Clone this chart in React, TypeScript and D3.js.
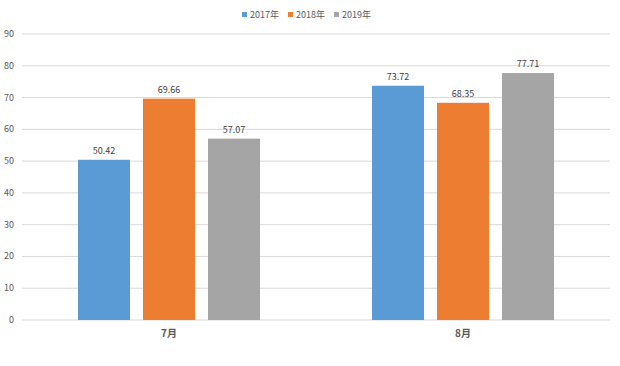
import * as d3 from "d3";

const months = ["7月", "8月"];
const seriesNames = ["2017年", "2018年", "2019年"];
const seriesColors = ["#5b9bd5", "#ed7d31", "#a5a5a5"];
const values2017 = [50.42, 73.72];
const values2018 = [69.66, 68.35];
const values2019 = [57.07, 77.71];
const yTicks = [0, 10, 20, 30, 40, 50, 60, 70, 80, 90];

const W = 620, H = 366;
const FONT = "'Microsoft YaHei', 'Noto Sans CJK SC', 'Liberation Sans', sans-serif";

export default function App() {
  const series = [values2017, values2018, values2019];
  const x0 = d3.scaleBand().domain(months).range([22, 610]).paddingInner(0).paddingOuter(0);
  const y = d3.scaleLinear().domain([0, 90]).range([320, 34]);
  const groupW = 182;
  const x1 = d3.scaleBand().domain(seriesNames).range([0, groupW]).paddingInner(0.2);

  // legend swatch positions
  const legendX = [242, 288, 334];

  return (
    <svg width={W} height={H} style={{ position: "absolute", left: 0, top: 0, background: "#fff" }} fontFamily={FONT}>
      {yTicks.map(t => (
        <g key={t}>
          <line x1={22} x2={610} y1={y(t)} y2={y(t)} stroke="#d9d9d9" strokeWidth={1} />
          <text x={14} y={y(t) + 3} textAnchor="end" fontSize={9} fill="#595959">{t}</text>
        </g>
      ))}
      {months.map((m, i) => {
        const gx = (x0(m) ?? 0) + x0.bandwidth() / 2 - groupW / 2;
        return (
          <g key={m}>
            {series.map((s, j) => {
              const bx = gx + (x1(seriesNames[j]) ?? 0);
              const bw = x1.bandwidth();
              return (
                <g key={j}>
                  <rect x={bx} y={y(s[i])} width={bw} height={y(0) - y(s[i])} fill={seriesColors[j]} />
                  <text x={bx + bw / 2} y={y(s[i]) - 6} textAnchor="middle" fontSize={9} fill="#404040">
                    {s[i].toFixed(2)}
                  </text>
                </g>
              );
            })}
            <text x={(x0(m) ?? 0) + x0.bandwidth() / 2} y={337} textAnchor="middle" fontSize={10} fontWeight="bold" fill="#595959">{m}</text>
          </g>
        );
      })}
      {seriesNames.map((n, j) => (
        <g key={n}>
          <rect x={legendX[j]} y={12} width={5} height={5} fill={seriesColors[j]} />
          <text x={legendX[j] + 8} y={18} fontSize={9} fill="#595959">{n}</text>
        </g>
      ))}
    </svg>
  );
}
